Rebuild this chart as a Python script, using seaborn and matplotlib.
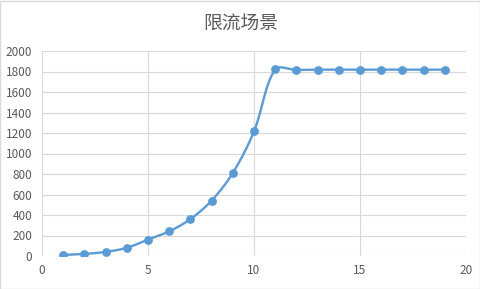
import numpy as np
import pandas as pd
import matplotlib
matplotlib.use("Agg")
import matplotlib.pyplot as plt
import seaborn as sns

x_vals = [1, 2, 3, 4, 5, 6, 7, 8, 9, 10, 11, 12, 13, 14, 15, 16, 17, 18, 19]
y_vals = [10, 20, 40, 80, 160, 240, 360, 540, 810, 1215, 1820, 1815, 1818, 1818, 1818, 1818, 1818, 1818, 1818]
title = "限流场景"
x_ticks = [0, 5, 10, 15, 20]
y_ticks = [0, 200, 400, 600, 800, 1000, 1200, 1400, 1600, 1800, 2000]

sns.set_theme(style="white")
plt.rcParams['font.family'] = ['Noto Sans CJK SC', 'DejaVu Sans']

def smooth(xs, ys, sx_scale, sy_scale, n=24, k=1/3):
    # Excel-like Bezier smoothing with control arms scaled by segment lengths (in screen units)
    X = np.asarray(xs, float) * sx_scale
    Y = np.asarray(ys, float) * sy_scale
    P = np.column_stack([X, Y])
    m = len(P)
    L = np.hypot(np.diff(X), np.diff(Y))
    cin, cout = [None]*m, [None]*m
    for i in range(m):
        if i == 0:
            d = P[1] - P[0]; cout[i] = P[i] + d * k; continue
        if i == m-1:
            d = P[i] - P[i-1]; cin[i] = P[i] - d * k; continue
        d = P[i+1] - P[i-1]
        lp, ln = L[i-1], L[i]
        cin[i] = P[i] - d * k * lp / (lp + ln)
        cout[i] = P[i] + d * k * ln / (lp + ln)
    px, py = [], []
    for i in range(m - 1):
        p1, c1, c2, p2 = P[i], cout[i], cin[i+1], P[i+1]
        s = np.linspace(0, 1, n, endpoint=(i == m-2))[:, None]
        b = (1-s)**3*p1 + 3*(1-s)**2*s*c1 + 3*(1-s)*s**2*c2 + s**3*p2
        px.extend(b[:, 0]); py.extend(b[:, 1])
    return np.array(px) / sx_scale, np.array(py) / sy_scale

sx, sy = smooth(x_vals, y_vals, 424/20, 205/2000)
curve = pd.DataFrame({"x": sx, "y": sy})
pts = pd.DataFrame({"x": x_vals, "y": y_vals})

fig = plt.figure(figsize=(4.81, 2.89), dpi=100)
fig.patches.append(plt.Rectangle((0.001, 0.001), 0.997, 0.996, transform=fig.transFigure,
                                 fill=False, edgecolor="#d9d9d9", linewidth=1))
ax = fig.add_axes([42/481, 1-256/289, (466-42)/481, (256-51)/289])

color = "#5b9bd5"
sns.lineplot(data=curve, x="x", y="y", sort=False, ax=ax, color=color, linewidth=1.7, estimator=None)
sns.scatterplot(data=pts, x="x", y="y", ax=ax, color=color, s=40, edgecolor=color, linewidth=0, zorder=3)

ax.set_xlim(0, 20)
ax.set_ylim(0, 2000)
ax.set_xticks(x_ticks)
ax.set_yticks(y_ticks)
ax.grid(True, color="#d9d9d9", linewidth=0.8)
ax.set_axisbelow(True)
for s in ax.spines.values():
    s.set_visible(False)
ax.set_xlabel("")
ax.set_ylabel("")
ax.tick_params(axis="both", length=0, labelsize=8.5, colors="#595959", pad=6)
ax.tick_params(axis="y", pad=7)
fig.text(0.5, 1-23/289, title, ha="center", va="center", fontsize=13.5, color="#595959")

fig.savefig("out.png", dpi=100)
